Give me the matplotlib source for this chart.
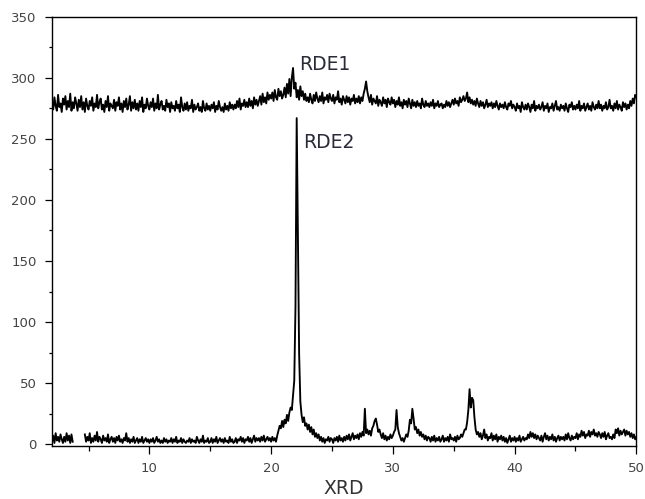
import numpy as np
import matplotlib
matplotlib.use("Agg")
import matplotlib.pyplot as plt
from matplotlib.ticker import MultipleLocator

plt.rcParams['font.family'] = ['DejaVu Sans']

nan = float('nan')

# 2-theta grid: 2.0 .. 50.0 step 0.1 (10 values per row, one row per degree)
x_start, x_step, n_points = 2.0, 0.1, 481

rde1_rows = [
    [280,274,284,277,273,286,276,279,272,283],  # 2
    [278,285,274,281,276,287,273,280,275,284],  # 3
    [279,273,282,276,285,274,280,272,283,277],  # 4
    [274,281,277,284,273,279,276,286,275,280],  # 5
    [283,274,278,272,281,276,285,273,279,277],  # 6
    [275,282,273,280,277,284,274,279,272,281],  # 7
    [276,283,274,278,285,273,280,275,282,274],  # 8
    [279,273,281,276,284,272,278,275,283,277],  # 9
    [274,280,276,283,273,279,275,286,274,278],  # 10
    [281,274,277,273,282,276,279,272,280,275],  # 11
    [277,273,281,275,278,272,284,276,273,279],  # 12
    [274,280,273,277,275,282,272,278,274,276],  # 13
    [279,273,276,272,281,275,273,279,274,277],  # 14
    [273,278,275,280,272,277,274,281,276,273],  # 15
    [276,272,279,274,277,273,280,275,278,274],  # 16
    [278,275,281,276,283,274,279,277,282,276],  # 17
    [280,276,283,277,281,275,284,278,282,277],  # 18
    [281,285,278,287,280,284,279,288,282,286],  # 19
    [283,288,281,290,284,282,291,285,289,283],  # 20
    [286,292,284,295,287,299,285,300,308,291],  # 21
    [296,284,290,282,293,285,289,282,287,281],  # 22
    [284,280,287,282,279,286,281,288,283,280],  # 23
    [285,281,288,279,284,282,286,280,287,283],  # 24
    [281,286,279,284,282,289,280,283,278,285],  # 25
    [282,279,285,280,284,278,283,281,286,279],  # 26
    [283,280,285,279,284,281,287,291,297,289],  # 27
    [284,280,286,278,283,281,279,285,277,282],  # 28
    [280,277,284,279,282,276,283,280,278,284],  # 29
    [279,282,276,281,278,284,277,280,275,282],  # 30
    [278,281,276,283,279,275,282,277,280,276],  # 31
    [281,277,279,275,283,278,276,281,277,279],  # 32
    [276,280,277,282,275,279,277,281,276,278],  # 33
    [279,275,278,276,281,277,280,276,279,282],  # 34
    [278,283,279,281,277,284,280,282,285,281],  # 35
    [283,288,280,284,279,282,278,281,277,283],  # 36
    [279,276,281,277,280,275,278,282,276,279],  # 37
    [277,280,275,279,276,281,277,274,279,276],  # 38
    [278,275,280,276,274,279,277,281,275,278],  # 39
    [276,273,279,275,277,272,280,276,274,278],  # 40
    [274,279,276,272,278,275,281,273,277,275],  # 41
    [278,274,276,280,273,277,275,279,272,276],  # 42
    [275,279,273,277,281,274,276,273,278,275],  # 43
    [277,273,279,275,272,278,276,280,274,277],  # 44
    [274,278,275,281,273,277,275,279,273,276],  # 45
    [279,274,277,273,280,276,274,278,275,281],  # 46
    [275,278,273,277,275,280,274,276,282,275],  # 47
    [277,273,279,275,281,274,278,276,273,280],  # 48
    [276,279,274,278,275,281,277,283,279,286],  # 49
]
rde1_last = [284]  # 50.0

rde2_rows = [
    [2,7,1,9,3,6,2,8,4,1],                      # 2
    [6,2,9,3,7,1,8,2,nan,nan],                  # 3
    [nan,nan,nan,nan,nan,nan,nan,8,2,6],        # 4
    [3,9,1,5,2,7,3,10,2,6],                     # 5
    [4,1,7,3,5,2,8,1,4,6],                      # 6
    [2,5,1,6,3,7,2,4,1,5],                      # 7
    [3,9,2,5,1,4,2,6,1,3],                      # 8
    [5,1,4,2,6,1,3,5,2,4],                      # 9
    [1,4,2,5,1,3,6,2,4,1],                      # 10
    [3,1,5,2,4,1,3,2,5,1],                      # 11
    [4,2,6,1,3,2,5,1,4,2],                      # 12
    [1,3,2,5,1,4,2,3,1,6],                      # 13
    [3,1,4,2,7,1,3,2,5,1],                      # 14
    [2,5,1,4,2,6,1,3,5,2],                      # 15
    [4,1,5,2,3,1,6,2,4,1],                      # 16
    [2,5,1,4,3,6,2,5,1,4],                      # 17
    [3,6,2,5,1,4,7,2,5,3],                      # 18
    [5,2,6,3,7,2,4,6,3,5],                      # 19
    [2,6,3,5,2,7,11,15,13,19],                  # 20
    [14,20,17,24,19,26,30,28,40,52],            # 21
    [112,267,170,74,35,24,18,22,15,17],         # 22
    [12,16,10,14,8,12,6,9,5,8],                 # 23
    [3,6,2,5,1,4,3,6,2,5],                      # 24
    [4,1,5,3,6,2,7,3,5,2],                      # 25
    [6,3,7,4,8,3,6,9,4,7],                      # 26
    [5,8,4,9,6,10,7,29,9,12],                   # 27
    [8,11,7,13,15,19,21,16,10,12],              # 28
    [8,5,9,4,7,3,6,4,8,5],                      # 29
    [7,10,12,28,14,9,6,3,5,2],                  # 30
    [5,8,6,11,20,17,29,21,12,14],               # 31
    [9,12,7,10,6,8,4,7,3,6],                    # 32
    [5,2,6,3,7,2,5,3,6,2],                      # 33
    [4,7,2,5,3,6,2,8,4,5],                      # 34
    [3,6,2,7,4,5,8,6,9,12],                     # 35
    [12,18,28,45,30,38,36,22,12,8],             # 36
    [10,6,9,4,7,12,5,8,3,6],                    # 37
    [5,9,3,7,4,8,2,6,4,7],                      # 38
    [3,6,2,5,1,4,7,2,5,3],                      # 39
    [6,2,5,3,7,2,4,6,3,5],                      # 40
    [4,8,5,10,6,9,5,8,4,7],                     # 41
    [5,3,7,2,6,9,4,7,3,6],                      # 42
    [4,8,3,6,2,5,7,3,6,4],                      # 43
    [6,3,8,4,9,5,3,7,4,6],                      # 44
    [5,9,4,8,6,11,7,10,5,8],                    # 45
    [7,11,6,10,8,12,7,9,6,10],                  # 46
    [8,5,9,6,10,4,7,9,5,6],                     # 47
    [4,8,5,12,9,13,7,11,8,10],                  # 48
    [12,7,11,8,10,6,9,5,8,4],                   # 49
]
rde2_last = [6]  # 50.0

series_labels = ["RDE1", "RDE2"]
label_pos = [(22.27, 311), (22.62, 247)]
x_label = "XRD"
x_ticks = [10, 20, 30, 40, 50]
y_ticks = [0, 50, 100, 150, 200, 250, 300, 350]

rde1 = np.array([v for row in rde1_rows for v in row] + rde1_last, dtype=float)
rde2 = np.array([v for row in rde2_rows for v in row] + rde2_last, dtype=float)
x = np.round(x_start + x_step * np.arange(n_points), 2)

fig = plt.figure(figsize=(6.45, 4.99), dpi=100)
ax = fig.add_axes([0.0806, 0.1062, 0.9060, 0.8603])

ax.plot(x, rde1, color='black', lw=1.35)
ax.plot(x, rde2, color='black', lw=1.35)

for lab, (tx, ty) in zip(series_labels, label_pos):
    ax.text(tx, ty, lab, fontsize=13.5, color='#2a2a38', va='center', ha='left')

ax.set_xlim(2, 50)
ax.set_ylim(-1.5, 350)
ax.set_xticks(x_ticks)
ax.set_yticks(y_ticks)
ax.xaxis.set_minor_locator(MultipleLocator(5))
ax.yaxis.set_minor_locator(MultipleLocator(25))
ax.tick_params(axis='both', which='major', direction='out', width=0.9,
               labelsize=9.5, labelcolor='#444444')
ax.tick_params(axis='y', which='major', length=5, pad=6)
ax.tick_params(axis='y', which='minor', length=2.3, width=0.9)
ax.tick_params(axis='x', which='major', length=5.8, pad=5.5)
ax.tick_params(axis='x', which='minor', length=3.6, width=0.9)
for s in ax.spines.values():
    s.set_linewidth(1.0)
ax.set_xlabel(x_label, fontsize=13.5, color='#333333', labelpad=3)

fig.savefig("out.png", dpi=100, facecolor='white')
